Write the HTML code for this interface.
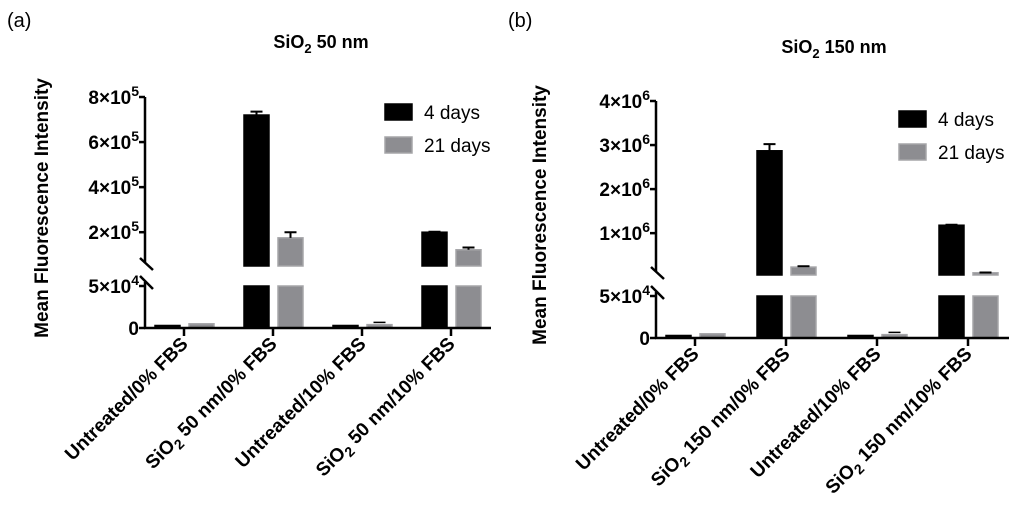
<!DOCTYPE html>
<html><head><meta charset="utf-8">
<style>
html,body{margin:0;padding:0;background:#fff;}
svg{display:block;font-family:"Liberation Sans",Arial,sans-serif;}
</style></head>
<body>
<svg id="fig" width="1024" height="524" viewBox="0 0 1024 524" xmlns="http://www.w3.org/2000/svg"></svg>
<script>
// ---- Data ----
const categoriesA = ["Untreated/0% FBS", "SiO2 50 nm/0% FBS", "Untreated/10% FBS", "SiO2 50 nm/10% FBS"];
const days4A = [3000, 720000, 3000, 200000];
const days4ErrA = [0, 15000, 0, 2000];
const days21A = [5000, 175000, 4000, 122000];
const days21ErrA = [0, 25000, 1500, 10000];
const tickValsA = [800000, 600000, 400000, 200000];
const tickMantA = ["8", "6", "4", "2"];
const tickExpA = ["5", "5", "5", "5"];

const categoriesB = ["Untreated/0% FBS", "SiO2 150 nm/0% FBS", "Untreated/10% FBS", "SiO2 150 nm/10% FBS"];
const days4B = [3000, 2870000, 3000, 1180000];
const days4ErrB = [0, 150000, 0, 10000];
const days21B = [5000, 230000, 4000, 100000];
const days21ErrB = [0, 20000, 1500, 8000];
const tickValsB = [4000000, 3000000, 2000000, 1000000];
const tickMantB = ["4", "3", "2", "1"];
const tickExpB = ["6", "6", "6", "6"];

const seriesNames = ["4 days", "21 days"];

const NS = "http://www.w3.org/2000/svg";
const svg = document.getElementById("fig");
function mk(tag, attrs, parent) {
  const e = document.createElementNS(NS, tag);
  for (const k in attrs) e.setAttribute(k, attrs[k]);
  (parent || svg).appendChild(e);
  return e;
}

function panel(o) {
  const g = mk("g", {});
  
  
  const ax = o.ax;
  const yUp = v => o.upBot - (v - 50000) / (o.upMax - 50000) * (o.upBot - o.upTop);
  const yLo = v => o.y0 - Math.min(v, 50000) / 50000 * (o.y0 - o.loTop);
  const xC = i => o.x0 + o.step * i;

  const lt = mk("text", {x: o.letterX, y: 27, "font-size": 20}, g);
  lt.textContent = o.letter;
  
  

  const t = mk("text", {x: o.titleX, y: o.titleY, "font-size": 18, "font-weight": "bold", "text-anchor": "middle"}, g);
  t.innerHTML = 'SiO<tspan font-size="13" dy="5">2</tspan><tspan dy="-5"> ' + o.size + ' nm</tspan>';
  
  

  const yt = mk("text", {x: 0, y: 0, "font-size": 19, "font-weight": "bold", "text-anchor": "middle",
    transform: `translate(${o.ytX},${o.ytY}) rotate(-90)`}, g);
  yt.textContent = "Mean Fluorescence Intensity";
  
  

  for (let i = 0; i < o.cats.length; i++) {
    [[o.d4, o.e4, "#000", "#000", -29, "4d"], [o.d21, o.e21, "#8d8d91", "#a5a5a8", 5, "21d"]].forEach(s => {
      const v = s[0][i], err = s[1][i];
      const x = xC(i) + s[4], w = 25;
      const top = v > 50000 ? o.loTop : yLo(v);
      const b1 = mk("rect", {x: x, y: top, width: w, height: o.y0 - top, fill: s[2], stroke: s[3], "stroke-width": 1.5}, g);
      
      
      if (v > 50000) {
        const yt2 = yUp(v);
        const b2 = mk("rect", {x: x, y: yt2, width: w, height: o.upBot - yt2, fill: s[2], stroke: s[3], "stroke-width": 1.5}, g);
        
        
        if (err > 0) {
          const ye = yUp(v + err);
          const eb = mk("path", {d: `M${x + w / 2},${yt2}V${ye}M${x + w / 2 - 6},${ye}H${x + w / 2 + 6}`, stroke: "#000", "stroke-width": 2, fill: "none"}, g);
          
          
        }
      } else if (err > 0) {
        const ye = yLo(v + err) - 1;
        const eb = mk("path", {d: `M${x + w / 2 - 6},${ye}H${x + w / 2 + 6}`, stroke: "#000", "stroke-width": 1.5}, g);
        
        
      }
    });
  }

  const ya = mk("path", {d: `M${ax},${o.upTop}V${o.upBot - 4}M${ax},${o.loTop - 4}V${o.y0}`, stroke: "#000", "stroke-width": 2.5, fill: "none"}, g);
  
  
  const br = mk("path", {d: `M${ax - 5},${o.upBot - 8}L${ax + 8},${o.upBot + 4}M${ax - 5},${o.loTop - 10}L${ax + 8},${o.loTop + 3}`, stroke: "#000", "stroke-width": 2.5, fill: "none"}, g);
  
  

  const tickLabel = (y, html, nm) => {
    const tk = mk("path", {d: `M${ax - 6},${y}H${ax}`, stroke: "#000", "stroke-width": 2.5}, g);
    
    
    const tx = mk("text", {x: ax - 6, y: y + 7, "font-size": 19, "font-weight": "bold", "text-anchor": "end"}, g);
    tx.innerHTML = html;
    
    
  };
  o.tv.forEach((v, k) => tickLabel(yUp(v), o.tm[k] + '×10<tspan font-size="14" dy="-8">' + o.te[k] + '</tspan>', 'y-tick-label'));
  tickLabel(o.loTop, '5×10<tspan font-size="14" dy="-8">4</tspan>', 'y-tick-label');
  tickLabel(o.y0, '0', 'y-tick-label');

  const xa = mk("path", {d: `M${ax - 1},${o.y0}H${o.xEnd}`, stroke: "#000", "stroke-width": 2.5}, g);
  
  
  o.cats.forEach((c, i) => {
    const x = xC(i);
    const tk = mk("path", {d: `M${x},${o.y0}V${o.y0 + 8}`, stroke: "#000", "stroke-width": 2.5}, g);
    
    
    const tx = mk("text", {x: 0, y: 0, "font-size": 19, "font-weight": "bold", "text-anchor": "end",
      transform: `translate(${x + 5},${o.y0 + 17}) rotate(-45)`}, g);
    if (c.startsWith("SiO2")) tx.innerHTML = 'SiO<tspan font-size="14" dy="5">2</tspan><tspan dy="-5">' + c.slice(4) + '</tspan>';
    else tx.textContent = c;
    
    
  });

  [["#000", "#000"], ["#8d8d91", "#a5a5a8"]].forEach((cl, k) => {
    const y = o.legY + k * 33;
    const sw = mk("rect", {x: o.legX, y: y, width: 27, height: 16, fill: cl[0], stroke: cl[1], "stroke-width": 1.5}, g);
    
    
    const lx = mk("text", {x: o.legX + 39, y: y + 15, "font-size": 19}, g);
    lx.textContent = seriesNames[k];
    
    
  });
}

panel({name: "chart-a", letter: "(a)", letterX: 7, size: 50, titleX: 321, titleY: 48,
  ytX: 48, ytY: 208, ax: 145, upTop: 97, upBot: 266, upMax: 800000, loTop: 286, y0: 328,
  x0: 184, step: 89, xEnd: 491, cats: categoriesA, d4: days4A, e4: days4ErrA, d21: days21A, e21: days21ErrA,
  tv: tickValsA, tm: tickMantA, te: tickExpA, legX: 385, legY: 104});

panel({name: "chart-b", letter: "(b)", letterX: 508, size: 150, titleX: 834, titleY: 53,
  ytX: 546, ytY: 215, ax: 656, upTop: 101, upBot: 275, upMax: 4000000, loTop: 296, y0: 338,
  x0: 695, step: 91, xEnd: 1009, cats: categoriesB, d4: days4B, e4: days4ErrB, d21: days21B, e21: days21ErrB,
  tv: tickValsB, tm: tickMantB, te: tickExpB, legX: 899, legY: 111});
</script>
</body></html>
